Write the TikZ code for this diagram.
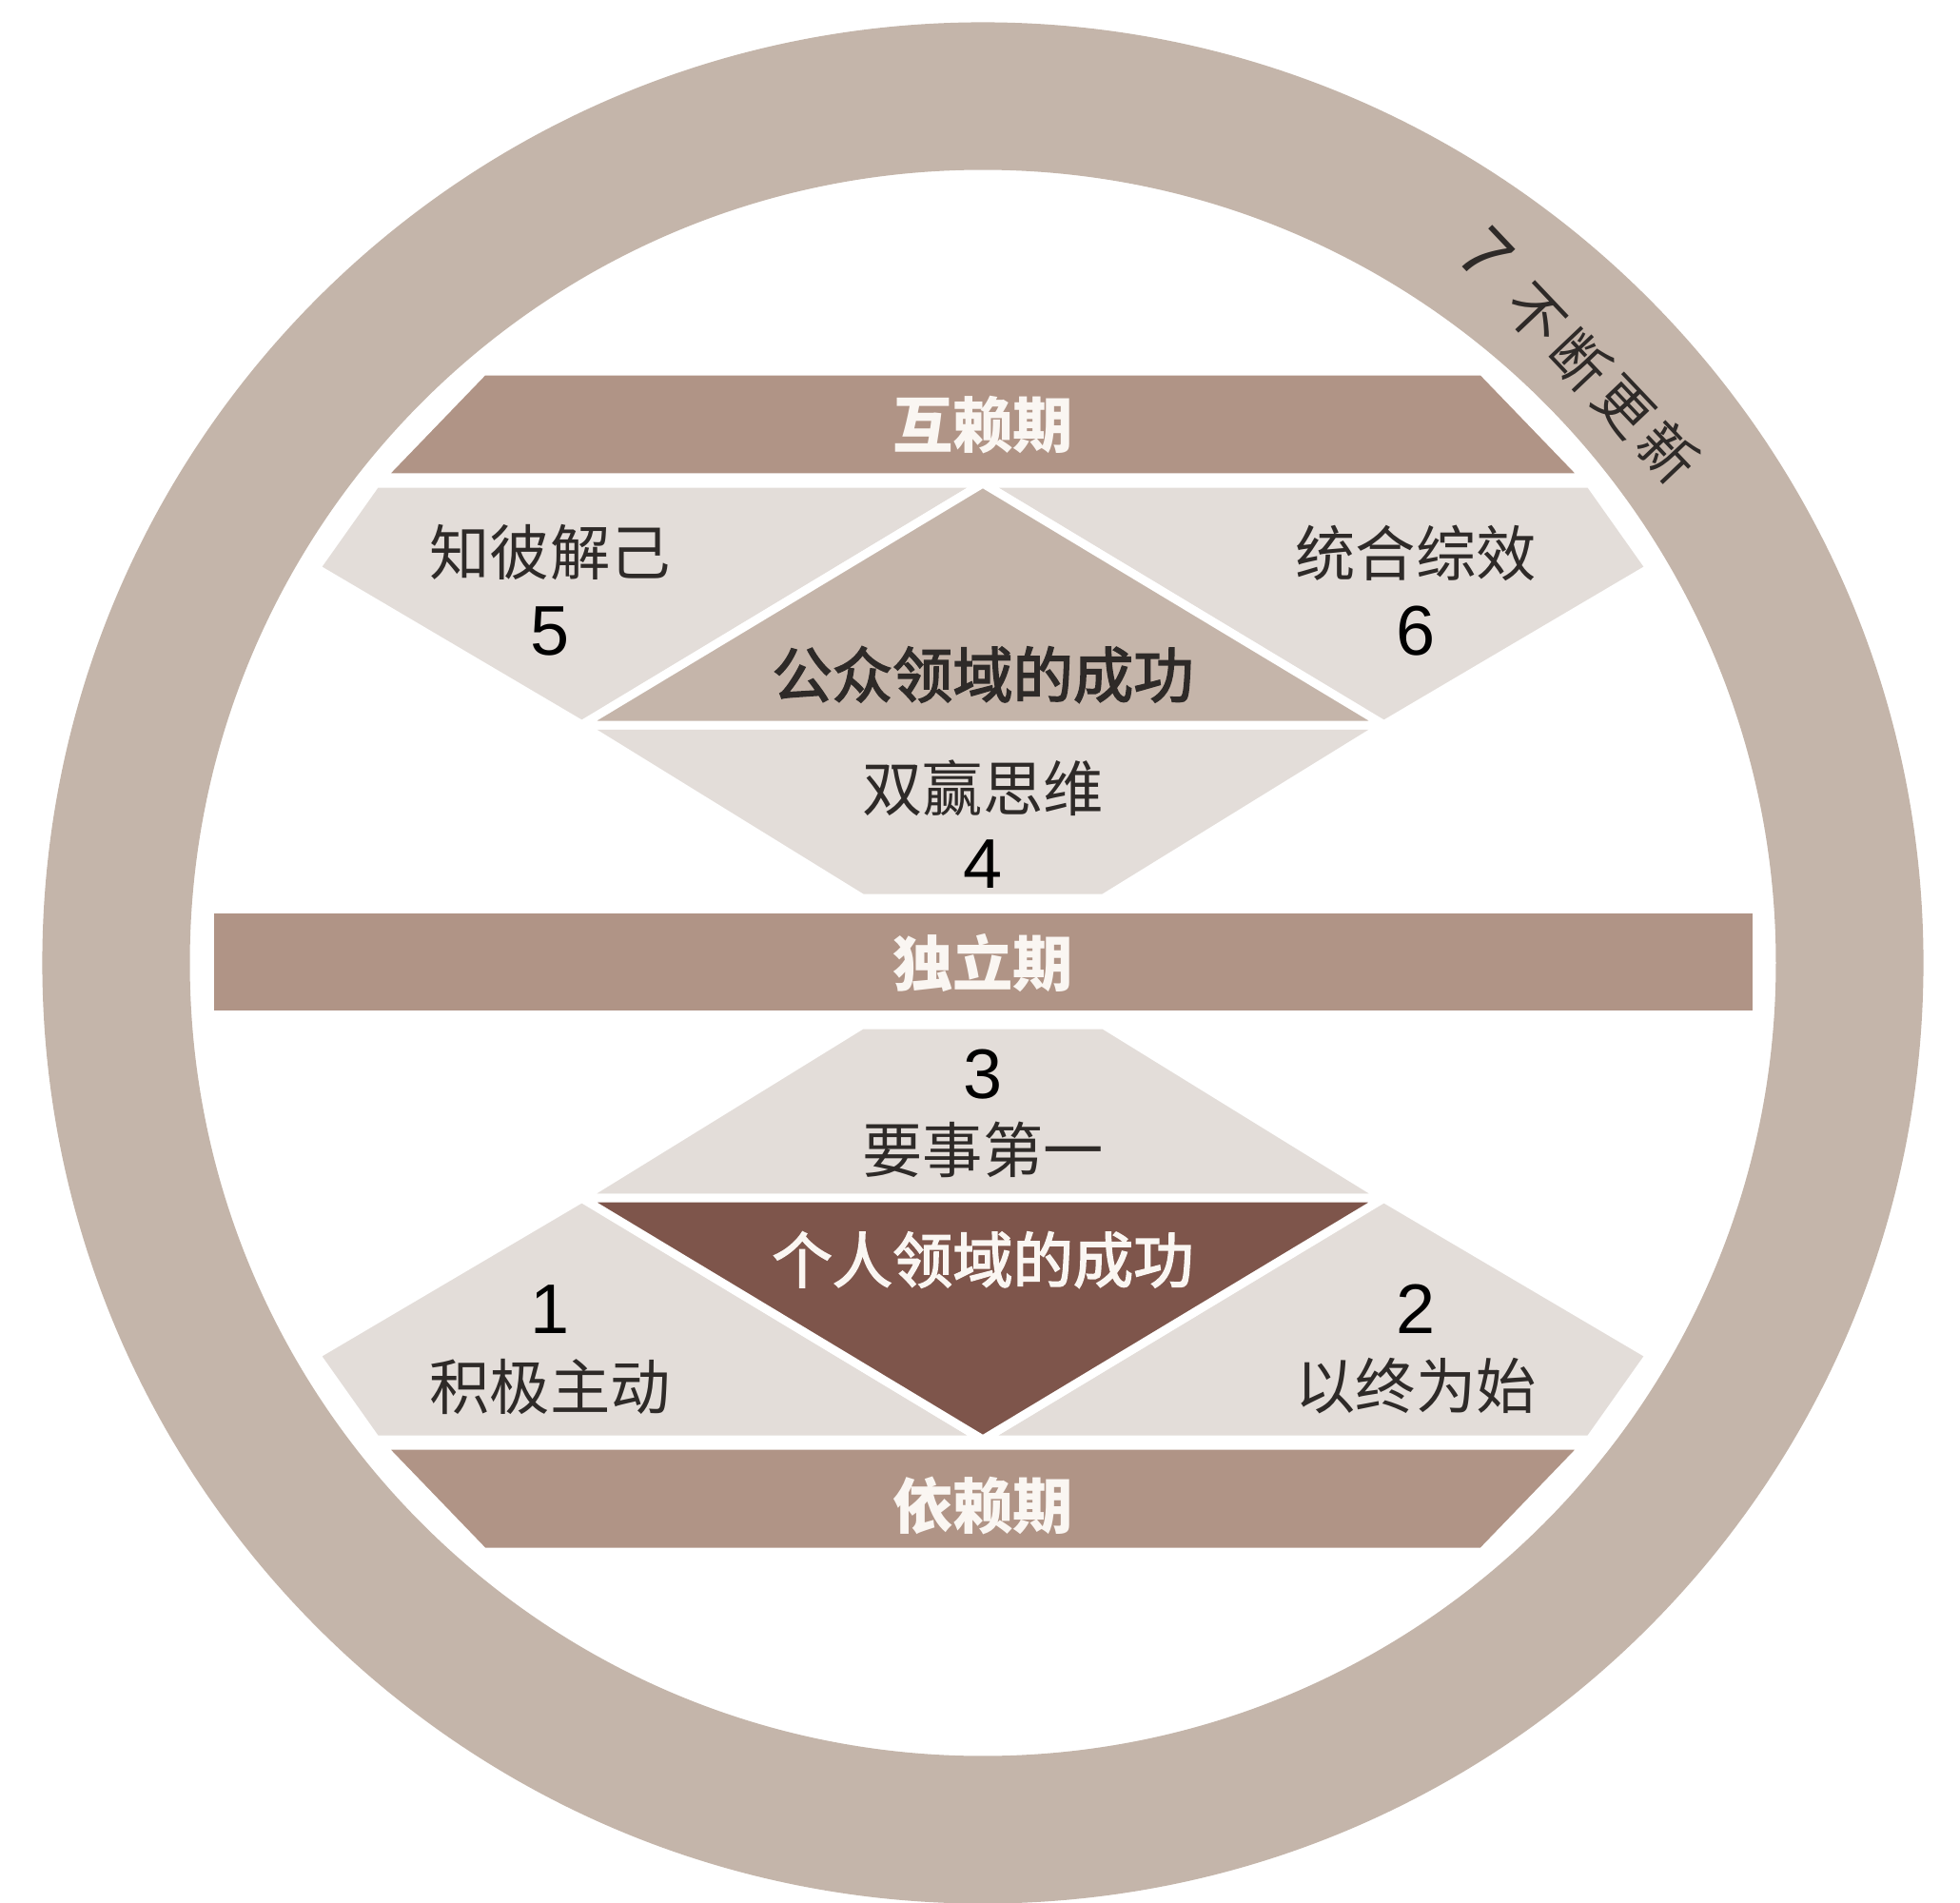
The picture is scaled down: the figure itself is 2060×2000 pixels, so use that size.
\documentclass[tikz,border=0pt]{standalone}
\usepackage{fontspec}
\setmainfont{Liberation Sans}
\newfontfamily\cjk{Noto Sans CJK SC}
\newfontfamily\cjkmed[FakeBold=2.5]{Noto Sans CJK SC}
\usetikzlibrary{calc}
\definecolor{ringcol}{HTML}{C4B5AA}
\definecolor{bandcol}{HTML}{B09486}
\definecolor{panelcol}{HTML}{E3DDD9}
\definecolor{pubcol}{HTML}{C5B5AA}
\definecolor{pricol}{HTML}{7E554B}
\definecolor{inkcol}{HTML}{2E2A28}
\definecolor{bandtxt}{HTML}{FAF6F2}
\begin{document}
\begin{tikzpicture}[x=0.01cm, y=-0.01cm,
  band/.style={fill=bandcol, draw=white, line width=0.09cm},
  panel/.style={fill=panelcol, draw=white, line width=0.09cm},
  head/.style={inner sep=0pt, text=bandtxt, font=\cjk\bfseries\fontsize{18}{22}\selectfont},
  label/.style={inner sep=0pt, text=inkcol, font=\cjk\fontsize{18}{22}\selectfont},
  num/.style={inner sep=0pt, text=black, font=\fontsize{21}{24}\selectfont},
  ringtxt/.style={inner sep=0pt, text=inkcol, font=\cjk\fontsize{17}{20}\selectfont}]
  \useasboundingbox (0,0) rectangle (2060,2000);
  % Ring
  \coordinate (O) at (1033,1012);
  \fill[ringcol, even odd rule] (O) circle[radius=9.88cm] (O) circle[radius=8.33cm];
  % Upper half
  \draw[band] (508,390) -- (1558,390) -- (1666,502) -- (400,502) -- cycle;
  \draw[panel] (395,508) -- (1033,508) -- (612,762) -- (332,597) -- cycle;
  \draw[panel] (1671,508) -- (1033,508) -- (1454,762) -- (1734,597) -- cycle;
  \draw[panel] (611,762) -- (1455,762) -- (1160,944) -- (906,944) -- cycle;
  \draw[panel, fill=pubcol] (1033,508) -- (1455,762) -- (611,762) -- cycle;
  % Middle band
  \draw[band] (220,955) rectangle (1846,1066);
  % Lower half
  \draw[band] (400,1519) -- (1666,1519) -- (1558,1631) -- (508,1631) -- cycle;
  \draw[panel] (906,1077) -- (1160,1077) -- (1455,1259) -- (611,1259) -- cycle;
  \draw[panel] (612,1259) -- (1033,1513) -- (395,1513) -- (332,1424) -- cycle;
  \draw[panel] (1454,1259) -- (1033,1513) -- (1671,1513) -- (1734,1424) -- cycle;
  \draw[panel, fill=pricol] (611,1259) -- (1455,1259) -- (1033,1513) -- cycle;
  % Labels
  \node (INTER) [head] at (1033,447) {互赖期};
  \node (T5) [label] at (578,581) {知彼解己};
  \node (N5) [num] at (578,663) {5};
  \node (T6) [label] at (1488,581) {统合综效};
  \node (N6) [num] at (1488,663) {6};
  \node (PUB) [label, font=\cjkmed\fontsize{18}{22}\selectfont] at (1033,709) {公众领域的成功};
  \node (T4) [label] at (1033,828) {双赢思维};
  \node (N4) [num] at (1033,908) {4};
  \node (INDEP) [head] at (1033,1012) {独立期};
  \node (N3) [num] at (1033,1129) {3};
  \node (T3) [label] at (1033,1208) {要事第一};
  \node (PRI) [head, font=\cjkmed\fontsize{18}{22}\selectfont] at (1033,1324) {个人领域的成功};
  \node (N1) [num] at (578,1376) {1};
  \node (T1) [label] at (578,1457) {积极主动};
  \node (N2) [num] at (1488,1376) {2};
  \node (T2) [label] at (1488,1457) {以终为始};
  \node (DEP) [head] at (1033,1582) {依赖期};
  % Ring text
  \node (RENEW) [ringtxt, rotate=-46.5] at (1660,375)
    {{\fontspec{Liberation Sans}\fontsize{22}{24}\selectfont 7}\hspace{0.5em}不\hspace{0.12em}断\hspace{0.12em}更\hspace{0.12em}新};
\end{tikzpicture}
\end{document}
